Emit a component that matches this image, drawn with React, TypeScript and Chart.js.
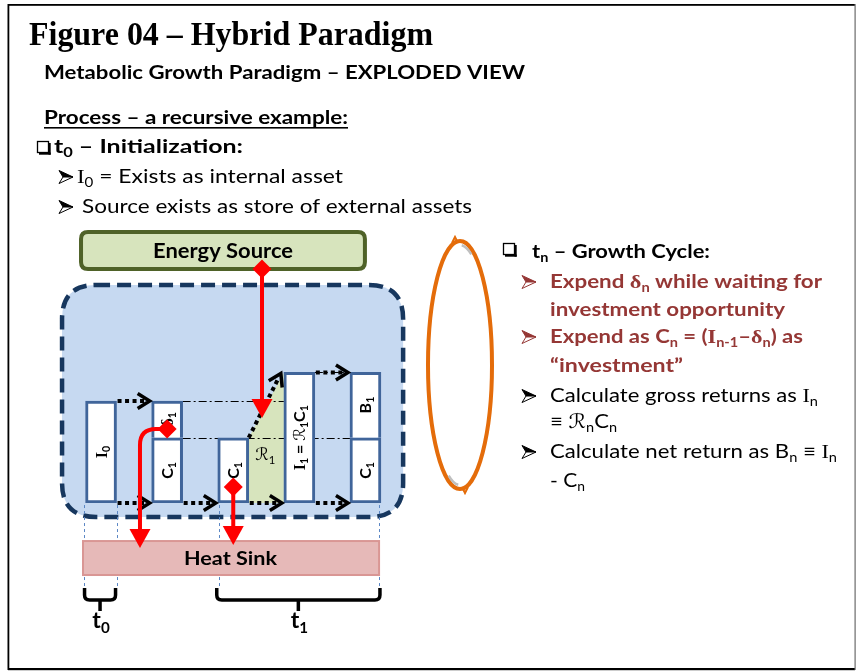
import React, { useEffect, useRef } from 'react';
import { Chart, registerables } from 'chart.js';
Chart.register(...registerables);

type Seg = { t: string; sub?: boolean; f?: 'serif' | 'script' };

// ---------------- data ----------------
const columnLabels = ['t0: I0', 't0→t1: C1 + δ1', 't1: C1', 't1: I1', 't1: C1 + B1'];
const baseValues = [1.0, 0.64, 0.64, 1.28, 0.64]; // I0, C1, C1, I1 = R1·C1, C1
const stackedValues: (number | null)[] = [null, 0.36, null, null, 0.64]; // –, δ1, –, –, B1
const baseTexts: Seg[][] = [
  [{ t: 'I', f: 'serif' }, { t: '0', sub: true }],
  [{ t: 'C' }, { t: '1', sub: true }],
  [{ t: 'C' }, { t: '1', sub: true }],
  [{ t: 'I', f: 'serif' }, { t: '1', sub: true }, { t: ' = ' }, { t: 'ℛ', f: 'script' }, { t: '1', sub: true }, { t: 'C' }, { t: '1', sub: true }],
  [{ t: 'C' }, { t: '1', sub: true }],
];
const stackedTexts: (Seg[] | null)[] = [
  null,
  [{ t: 'δ', f: 'serif' }, { t: '1', sub: true }],
  null,
  null,
  [{ t: 'B' }, { t: '1', sub: true }],
];
// dotted flows: [from column, to column, level]
const flows: [number, number, number][] = [
  [0, 1, 1.0], [0, 1, 0], [1, 2, 0], [2, 3, 0], [3, 4, 0], [3, 4, 1.28],
];
const growth = { fromCol: 2, fromV: 0.64, toCol: 3, toV: 1.28, label: 'ℛ' };
const referenceLevels: { v: number; from: number; fromSide: 'L' | 'R'; to: number; toSide: 'L' | 'R' }[] = [
  { v: 1.0, from: 1, fromSide: 'R', to: 3, toSide: 'L' },
  { v: 0.64, from: 1, fromSide: 'R', to: 4, toSide: 'L' },
  { v: 1.28, from: 3, fromSide: 'R', to: 4, toSide: 'R' },
];
const energyInflow = { u: 2.435, fromV: 2.294, toV: 0.833 };
const heatOutflowDelta = { col: 1, v: 0.725, u: 0.589, toV: -0.441 };
const heatOutflowC = { col: 2, v: 0.157, toV: -0.412 };
const timeSpans = [
  { sub: '0', from: 0, to: 0 },
  { sub: '1', from: 2, to: 4 },
];

// ---------------- layout ----------------
const CONTAINER = { u0: -0.59, u1: 4.57, v0: -0.137, v1: 2.137, r: 34 };
const SOURCE = { u0: -0.303, u1: 3.992, v0: 2.294, v1: 2.657, r: 7 };
const SINK = { u0: -0.273, u1: 4.206, v0: -0.706, v1: -0.373 };
const BRACE = { top: -0.833, mid: -0.951, stem: -1.06, label: -1.225 };

const SANS = 'Lato, "DejaVu Sans", sans-serif';
const SERIF = '"Liberation Serif", "DejaVu Serif", serif';
const SCRIPT = '"DejaVu Serif", "DejaVu Sans", serif';
const RED = '#ff0000';
const DARKRED = '#953735';

type Opt = { size: number; bold?: boolean; color?: string; width?: number; align?: 'left' | 'center'; family?: string };

function drawRich(ctx: CanvasRenderingContext2D, segs: Seg[], x: number, y: number, o: Opt) {
  const fontFor = (s: Seg) => {
    const sz = s.sub ? o.size * 0.66 : o.size;
    const fam = s.f === 'serif' ? SERIF : s.f === 'script' ? SCRIPT : o.family || SANS;
    const wt = o.bold && s.f !== 'script' ? 'bold ' : '';
    return `${wt}${sz}px ${fam}`;
  };
  ctx.save();
  const ws: number[] = [];
  let W = 0;
  for (const s of segs) {
    ctx.font = fontFor(s);
    const w = ctx.measureText(s.t).width;
    ws.push(w);
    W += w;
  }
  const sx = o.width ? o.width / W : 1;
  const total = W * sx;
  const x0 = o.align === 'center' ? x - total / 2 : x;
  ctx.translate(x0, y);
  ctx.scale(sx, 1);
  ctx.fillStyle = o.color || '#000';
  ctx.textAlign = 'left';
  ctx.textBaseline = 'alphabetic';
  let cx = 0;
  segs.forEach((s, i) => {
    ctx.font = fontFor(s);
    ctx.fillText(s.t, cx, s.sub ? o.size * 0.22 : 0);
    cx += ws[i];
  });
  ctx.restore();
  return total;
}

function roundRect(ctx: CanvasRenderingContext2D, x0: number, y0: number, x1: number, y1: number, r: number) {
  ctx.beginPath();
  ctx.moveTo(x0 + r, y0);
  ctx.lineTo(x1 - r, y0);
  ctx.quadraticCurveTo(x1, y0, x1, y0 + r);
  ctx.lineTo(x1, y1 - r);
  ctx.quadraticCurveTo(x1, y1, x1 - r, y1);
  ctx.lineTo(x0 + r, y1);
  ctx.quadraticCurveTo(x0, y1, x0, y1 - r);
  ctx.lineTo(x0, y0 + r);
  ctx.quadraticCurveTo(x0, y0, x0 + r, y0);
  ctx.closePath();
}

function dottedArrow(ctx: CanvasRenderingContext2D, x1: number, y1: number, x2: number, y2: number) {
  const a = Math.atan2(y2 - y1, x2 - x1);
  const dx = Math.cos(a), dy = Math.sin(a);
  ctx.save();
  ctx.strokeStyle = '#000';
  ctx.lineWidth = 4;
  ctx.setLineDash([4, 3.5]);
  ctx.beginPath();
  ctx.moveTo(x1, y1);
  ctx.lineTo(x2 - dx * 5, y2 - dy * 5);
  ctx.stroke();
  ctx.setLineDash([]);
  ctx.lineWidth = 3.5;
  const h = 12, w = 7.5;
  ctx.beginPath();
  ctx.moveTo(x2 - dx * h - dy * w, y2 - dy * h + dx * w);
  ctx.lineTo(x2, y2);
  ctx.lineTo(x2 - dx * h + dy * w, y2 - dy * h - dx * w);
  ctx.stroke();
  ctx.restore();
}

function diamond(ctx: CanvasRenderingContext2D, x: number, y: number) {
  const s = 9.5;
  ctx.beginPath();
  ctx.moveTo(x, y - s);
  ctx.lineTo(x + s, y);
  ctx.lineTo(x, y + s);
  ctx.lineTo(x - s, y);
  ctx.closePath();
  ctx.fillStyle = RED;
  ctx.fill();
}

function arrowHead(ctx: CanvasRenderingContext2D, x: number, tipY: number) {
  ctx.beginPath();
  ctx.moveTo(x - 10.5, tipY - 19);
  ctx.lineTo(x + 10.5, tipY - 19);
  ctx.lineTo(x, tipY);
  ctx.closePath();
  ctx.fillStyle = RED;
  ctx.fill();
}

function bulletArrow(ctx: CanvasRenderingContext2D, x: number, cy: number, color: string) {
  ctx.save();
  ctx.lineWidth = 1;
  ctx.strokeStyle = color;
  ctx.lineJoin = 'miter';
  ctx.beginPath();
  ctx.moveTo(x, cy - 6.5);
  ctx.lineTo(x + 14, cy);
  ctx.lineTo(x + 4, cy);
  ctx.closePath();
  ctx.fillStyle = color;
  ctx.fill();
  ctx.stroke();
  ctx.beginPath();
  ctx.moveTo(x + 4, cy);
  ctx.lineTo(x + 14, cy);
  ctx.lineTo(x, cy + 6.5);
  ctx.closePath();
  ctx.fillStyle = '#ffffff';
  ctx.fill();
  ctx.stroke();
  ctx.restore();
}

function checkbox(ctx: CanvasRenderingContext2D, x: number, y: number) {
  ctx.save();
  ctx.strokeStyle = '#000';
  ctx.lineWidth = 1.3;
  ctx.strokeRect(x + 0.5, y + 0.5, 11, 11);
  ctx.fillStyle = '#000';
  ctx.fillRect(x + 11.5, y + 2, 2.2, 11.7);
  ctx.fillRect(x + 2, y + 11.5, 11.7, 2.2);
  ctx.restore();
}

function geo(chart: Chart) {
  const xs = chart.scales.x;
  const ys = chart.scales.y;
  const meta = chart.getDatasetMeta(0);
  const el = (i: number) => meta.data[i] as any;
  return {
    X: (u: number) => xs.getPixelForValue(u),
    Y: (v: number) => ys.getPixelForValue(v),
    L: (i: number) => el(i).x - el(i).width / 2,
    R: (i: number) => el(i).x + el(i).width / 2,
    C: (i: number) => el(i).x,
  };
}

const diagramPlugin = {
  id: 'diagram',
  beforeDatasetsDraw(chart: Chart) {
    const ctx = chart.ctx;
    const { X, Y, L, R } = geo(chart);
    ctx.save();
    // container
    roundRect(ctx, X(CONTAINER.u0), Y(CONTAINER.v1), X(CONTAINER.u1), Y(CONTAINER.v0), CONTAINER.r);
    ctx.fillStyle = '#c6d9f1';
    ctx.fill();
    ctx.setLineDash([14, 7]);
    ctx.lineWidth = 4.5;
    ctx.strokeStyle = '#17375e';
    ctx.stroke();
    ctx.setLineDash([]);
    // energy source
    roundRect(ctx, X(SOURCE.u0), Y(SOURCE.v1), X(SOURCE.u1), Y(SOURCE.v0), SOURCE.r);
    ctx.fillStyle = '#d7e4bd';
    ctx.fill();
    ctx.lineWidth = 4;
    ctx.strokeStyle = '#4f6228';
    ctx.stroke();
    drawRich(ctx, [{ t: 'Energy Source' }], 223, 258, { size: 20.5, bold: true, width: 140, align: 'center' });
    // growth area
    ctx.beginPath();
    ctx.moveTo(R(growth.fromCol), Y(growth.fromV));
    ctx.lineTo(L(growth.toCol), Y(growth.toV));
    ctx.lineTo(L(growth.toCol), Y(0));
    ctx.lineTo(R(growth.fromCol), Y(0));
    ctx.closePath();
    ctx.fillStyle = '#d7e4bd';
    ctx.fill();
    // reference dash-dot levels
    ctx.strokeStyle = '#000';
    ctx.lineWidth = 1;
    ctx.setLineDash([8, 3, 2, 3]);
    for (const r of referenceLevels) {
      const x1 = r.fromSide === 'R' ? R(r.from) : L(r.from);
      const x2 = r.toSide === 'R' ? R(r.to) : L(r.to);
      ctx.beginPath();
      ctx.moveTo(x1, Math.round(Y(r.v)) + 0.5);
      ctx.lineTo(x2, Math.round(Y(r.v)) + 0.5);
      ctx.stroke();
    }
    ctx.restore();
  },
  afterDatasetsDraw(chart: Chart) {
    const ctx = chart.ctx;
    const { X, Y, L, R, C } = geo(chart);
    ctx.save();
    // bar labels
    const label = (segs: Seg[], cx: number, cy: number) => {
      ctx.save();
      ctx.translate(cx, cy);
      ctx.rotate(-Math.PI / 2);
      drawRich(ctx, segs, 0, 5.5, { size: 16, bold: true, align: 'center' });
      ctx.restore();
    };
    baseTexts.forEach((segs, i) => {
      label(segs, C(i), (Y(0) + Y(baseValues[i])) / 2);
    });
    stackedTexts.forEach((segs, i) => {
      const s = stackedValues[i];
      if (!segs || s == null) return;
      label(segs, C(i), (Y(baseValues[i]) + Y(baseValues[i] + s)) / 2);
    });
    // growth factor label
    drawRich(ctx, [{ t: growth.label, f: 'script' }, { t: '1', sub: true }], (R(growth.fromCol) + L(growth.toCol)) / 2 - 1, Y(0.42), { size: 17, align: 'center' });
    // dotted flow arrows
    for (const [a, b, v] of flows) {
      dottedArrow(ctx, R(a) + 1, Y(v), L(b) - 2, Y(v));
    }
    dottedArrow(ctx, R(growth.fromCol), Y(growth.fromV), L(growth.toCol) - 3, Y(growth.toV) + 1);
    // guide lines
    ctx.strokeStyle = '#5b87c5';
    ctx.lineWidth = 1;
    ctx.setLineDash([3, 3]);
    const guides = [L(timeSpans[0].from) - 2, R(timeSpans[0].to), L(timeSpans[1].from) + 1, R(timeSpans[1].to) - 2];
    for (const gx of guides) {
      ctx.beginPath();
      ctx.moveTo(Math.round(gx) + 0.5, Y(-0.02));
      ctx.lineTo(Math.round(gx) + 0.5, Y(BRACE.top));
      ctx.stroke();
    }
    ctx.setLineDash([]);
    // heat sink
    ctx.fillStyle = '#e6b9b8';
    ctx.fillRect(X(SINK.u0), Y(SINK.v1), X(SINK.u1) - X(SINK.u0), Y(SINK.v0) - Y(SINK.v1));
    ctx.strokeStyle = '#d99694';
    ctx.lineWidth = 2;
    ctx.strokeRect(X(SINK.u0), Y(SINK.v1), X(SINK.u1) - X(SINK.u0), Y(SINK.v0) - Y(SINK.v1));
    drawRich(ctx, [{ t: 'Heat Sink' }], 230.5, 565, { size: 19.5, bold: true, width: 93, align: 'center' });
    // red flows
    ctx.strokeStyle = RED;
    ctx.lineWidth = 4;
    const ex = X(energyInflow.u);
    ctx.beginPath();
    ctx.moveTo(ex, Y(energyInflow.fromV));
    ctx.lineTo(ex, Y(energyInflow.toV) - 17);
    ctx.stroke();
    arrowHead(ctx, ex, Y(energyInflow.toV));
    diamond(ctx, ex, Y(energyInflow.fromV));
    const dx0 = C(heatOutflowDelta.col), dy0 = Y(heatOutflowDelta.v), dxc = X(heatOutflowDelta.u);
    ctx.beginPath();
    ctx.moveTo(dx0, dy0);
    ctx.lineTo(dxc + 16, dy0);
    ctx.quadraticCurveTo(dxc, dy0, dxc, dy0 + 16);
    ctx.lineTo(dxc, Y(heatOutflowDelta.toV) - 17);
    ctx.stroke();
    arrowHead(ctx, dxc, Y(heatOutflowDelta.toV));
    diamond(ctx, dx0, dy0);
    const cx0 = C(heatOutflowC.col);
    ctx.beginPath();
    ctx.moveTo(cx0, Y(heatOutflowC.v));
    ctx.lineTo(cx0, Y(heatOutflowC.toV) - 17);
    ctx.stroke();
    arrowHead(ctx, cx0, Y(heatOutflowC.toV));
    diamond(ctx, cx0, Y(heatOutflowC.v));
    // braces
    ctx.strokeStyle = '#000';
    ctx.lineWidth = 3.5;
    for (const s of timeSpans) {
      const xl = L(s.from) - 1, xr = R(s.to) - 1;
      const yt = Y(BRACE.top), ym = Y(BRACE.mid), ys = Y(BRACE.stem);
      const r = 5;
      ctx.beginPath();
      ctx.moveTo(xl, yt);
      ctx.lineTo(xl, ym - r);
      ctx.quadraticCurveTo(xl, ym, xl + r, ym);
      ctx.lineTo(xr - r, ym);
      ctx.quadraticCurveTo(xr, ym, xr, ym - r);
      ctx.lineTo(xr, yt);
      ctx.moveTo((xl + xr) / 2, ym);
      ctx.lineTo((xl + xr) / 2, ys);
      ctx.stroke();
      drawRich(ctx, [{ t: 't' }, { t: s.sub, sub: true }], (xl + xr) / 2 + 1, Y(BRACE.label), { size: 23, bold: true, align: 'center' });
    }

    // ---------- text blocks ----------
    drawRich(ctx, [{ t: 'Figure 04 – Hybrid Paradigm' }], 29, 45, { size: 33, bold: true, family: SERIF, width: 404 });
    drawRich(ctx, [{ t: 'Metabolic Growth Paradigm – EXPLODED VIEW' }], 44, 79, { size: 18.5, bold: true, width: 481 });
    const pw = drawRich(ctx, [{ t: 'Process – a recursive example:' }], 44, 124, { size: 18.5, bold: true, width: 304 });
    ctx.fillStyle = '#000';
    ctx.fillRect(44, 127, pw, 1.6);
    checkbox(ctx, 37, 141);
    drawRich(ctx, [{ t: 't' }, { t: '0', sub: true }, { t: ' – Initialization:' }], 54, 153, { size: 19, bold: true, width: 189 });
    bulletArrow(ctx, 59, 177, '#000');
    drawRich(ctx, [{ t: 'I', f: 'serif' }, { t: '0', sub: true }, { t: ' = Exists as internal asset' }], 77, 183, { size: 19.5, width: 266 });
    bulletArrow(ctx, 59, 207, '#000');
    drawRich(ctx, [{ t: 'Source exists as store of external assets' }], 82, 213, { size: 19.5, width: 390 });

    checkbox(ctx, 503, 243);
    drawRich(ctx, [{ t: 't' }, { t: 'n', sub: true }, { t: ' – Growth Cycle:' }], 532, 258, { size: 19.5, bold: true, width: 178 });
    bulletArrow(ctx, 522, 282, DARKRED);
    drawRich(ctx, [{ t: 'Expend ' }, { t: 'δ', f: 'serif' }, { t: 'n', sub: true }, { t: ' while waiting for' }], 550, 288, { size: 19.5, bold: true, color: DARKRED, width: 272 });
    drawRich(ctx, [{ t: 'investment opportunity' }], 550, 316, { size: 19.5, bold: true, color: DARKRED, width: 235 });
    bulletArrow(ctx, 522, 337, DARKRED);
    drawRich(ctx, [{ t: 'Expend as C' }, { t: 'n', sub: true }, { t: ' = (' }, { t: 'I', f: 'serif' }, { t: 'n-1', sub: true }, { t: '–' }, { t: 'δ', f: 'serif' }, { t: 'n', sub: true }, { t: ') as' }], 550, 343, { size: 19.5, bold: true, color: DARKRED, width: 253 });
    drawRich(ctx, [{ t: '“investment”' }], 550, 372, { size: 19.5, bold: true, color: DARKRED, width: 133 });
    bulletArrow(ctx, 522, 396, '#000');
    drawRich(ctx, [{ t: 'Calculate gross returns as ' }, { t: 'I', f: 'serif' }, { t: 'n', sub: true }], 550, 402, { size: 19.5, width: 268 });
    drawRich(ctx, [{ t: '≡ ' }, { t: 'ℛ', f: 'script' }, { t: 'n', sub: true }, { t: 'C' }, { t: 'n', sub: true }], 550, 428, { size: 19.5, width: 67 });
    bulletArrow(ctx, 522, 452, '#000');
    drawRich(ctx, [{ t: 'Calculate net return as B' }, { t: 'n', sub: true }, { t: ' ≡ ' }, { t: 'I', f: 'serif' }, { t: 'n', sub: true }], 550, 458, { size: 19.5, width: 287 });
    drawRich(ctx, [{ t: '- C' }, { t: 'n', sub: true }], 550, 487, { size: 19.5, width: 35 });

    // orange cycle ring
    ctx.strokeStyle = '#e46c0a';
    ctx.lineWidth = 4;
    ctx.beginPath();
    ctx.ellipse(460, 365, 32, 124, 0, 0, Math.PI * 2);
    ctx.stroke();
    ctx.strokeStyle = '#bfbfbf';
    ctx.lineWidth = 2.5;
    ctx.beginPath();
    ctx.ellipse(460, 365, 29, 120, 0, -Math.PI / 2 + 0.06, -Math.PI / 2 + 0.4);
    ctx.stroke();
    ctx.beginPath();
    ctx.ellipse(460, 365, 29, 120, 0, Math.PI / 2 + 0.06, Math.PI / 2 + 0.4);
    ctx.stroke();
    ctx.strokeStyle = '#e46c0a';
    ctx.lineWidth = 2;
    ctx.beginPath();
    ctx.moveTo(452, 243); ctx.lineTo(455, 237); ctx.lineTo(458, 243);
    ctx.moveTo(462, 487); ctx.lineTo(465, 493); ctx.lineTo(468, 487);
    ctx.stroke();

    // frame
    ctx.fillStyle = '#000';
    ctx.fillRect(8, 4, 847, 1.8);
    ctx.fillRect(7.5, 4, 1.8, 666);
    ctx.fillRect(8, 668, 847, 2.2);
    ctx.fillStyle = '#6b6b6b';
    ctx.fillRect(854.5, 4, 1.2, 666);
    ctx.restore();
  },
};

export default function App() {
  const ref = useRef<HTMLCanvasElement>(null);
  useEffect(() => {
    const canvas = ref.current;
    if (!canvas) return;
    const chart = new Chart(canvas, {
      type: 'bar',
      data: {
        labels: columnLabels,
        datasets: [
          {
            label: 'asset',
            data: baseValues,
            backgroundColor: '#ffffff',
            borderColor: '#40659a',
            borderWidth: 3,
            borderSkipped: false,
            barThickness: 31,
          },
          {
            label: 'split',
            data: stackedValues,
            backgroundColor: '#ffffff',
            borderColor: '#40659a',
            borderWidth: 3,
            borderSkipped: 'start',
            barThickness: 31,
          },
        ],
      },
      options: {
        responsive: false,
        animation: false,
        devicePixelRatio: 1,
        events: [],
        layout: { padding: { left: 68, right: 457.5, top: 299, bottom: 168 } },
        plugins: { legend: { display: false }, title: { display: false }, tooltip: { enabled: false } },
        scales: {
          x: { display: false, stacked: true, offset: true },
          y: { display: false, stacked: true, min: 0, max: 2 },
        },
      },
      plugins: [diagramPlugin as any],
    });
    return () => chart.destroy();
  }, []);
  return (
    <div style={{ position: 'absolute', left: 0, top: 0, width: 856, height: 671, background: '#ffffff' }}>
      <canvas ref={ref} width={856} height={671} style={{ display: 'block', width: 856, height: 671 }} />
    </div>
  );
}
